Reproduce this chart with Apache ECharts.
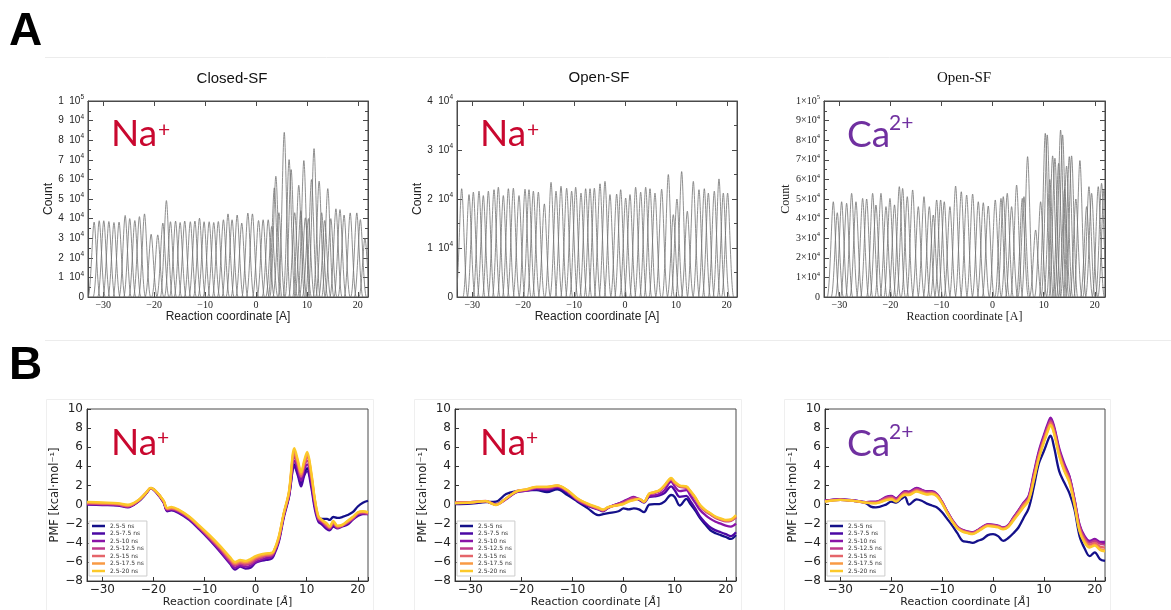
<!DOCTYPE html>
<html><head><meta charset="utf-8">
<script src="https://cdn.jsdelivr.net/npm/echarts@6/dist/echarts.min.js"></script>
<style>html,body{margin:0;padding:0;background:#fff}#c{width:1171px;height:610px}</style>
</head><body><div id="c"></div><script>
// ---------- DATA ----------
// Umbrella-sampling window histograms: [window centre (Å), peak count (x10^4)]
const histClosedNa = [[-31.8,3.82],[-30.8,3.89],[-29.9,3.89],[-28.9,3.85],[-27.9,3.80],[-26.9,3.82],[-25.7,4.16],[-24.8,4.00],[-23.8,3.90],[-22.9,4.10],[-21.9,4.24],[-20.6,3.20],[-19.3,3.17],[-18.3,3.77],[-17.6,4.92],[-16.8,3.84],[-15.8,3.87],[-14.9,3.80],[-14.0,3.87],[-12.9,3.84],[-12.0,3.87],[-11.1,4.02],[-10.2,3.84],[-9.2,3.84],[-8.3,3.80],[-7.4,3.85],[-6.4,3.94],[-5.5,4.24],[-4.7,3.94],[-3.7,4.18],[-2.8,3.77],[-1.6,4.28],[-0.7,4.24],[0.5,3.90],[1.4,3.94],[2.4,3.94],[3.1,3.6],[3.6,5.57],[3.9,6.16],[4.5,4.3],[5.55,8.40],[6.5,7.01],[6.9,6.50],[7.6,4.3],[8.4,5.70],[8.8,4.4],[9.4,6.96],[9.7,4.04],[10.3,4.0],[10.9,5.99],[11.4,7.57],[12.4,5.91],[12.9,4.3],[13.5,3.9],[14.1,5.53],[14.7,4.0],[15.7,4.50],[16.5,4.46],[17.3,4.18],[18.5,4.29],[19.8,4.29],[20.5,3.95],[21.4,3.0]];
const histOpenNa = [[-32.08,2.21],[-30.64,2.09],[-29.79,2.14],[-28.68,2.16],[-27.83,2.07],[-26.84,2.16],[-25.73,2.19],[-24.88,2.24],[-23.90,2.07],[-22.91,2.21],[-21.93,2.22],[-20.82,2.07],[-19.64,2.20],[-18.86,2.19],[-18.00,2.16],[-17.02,2.14],[-15.84,1.90],[-14.53,2.34],[-13.55,2.16],[-12.57,2.26],[-11.46,2.22],[-10.48,2.16],[-9.69,2.24],[-8.64,2.12],[-7.73,2.21],[-6.87,2.21],[-6.02,2.22],[-4.91,2.31],[-3.93,2.36],[-2.95,2.09],[-1.64,2.10],[-0.85,2.19],[0.13,2.02],[0.98,2.09],[2.09,2.24],[3.08,2.14],[4.06,2.24],[4.91,2.21],[5.89,2.12],[7.20,2.20],[8.51,2.50],[9.49,1.68],[10.2,2.0],[11.13,2.56],[12.24,1.75],[13.42,2.36],[14.53,2.19],[15.58,2.21],[16.37,2.12],[17.54,2.16],[18.46,2.41],[19.31,2.12],[20.16,2.12]];
const histOpenCa = [[-31.18,4.86],[-30.4,4.3],[-29.55,4.86],[-28.57,4.78],[-27.59,5.29],[-26.74,4.86],[-25.44,5.03],[-24.65,5.0],[-23.48,5.29],[-22.83,4.69],[-21.85,5.29],[-20.87,4.61],[-20.09,5.03],[-19.2,4.7],[-18.26,5.63],[-17.61,5.54],[-16.70,5.12],[-15.65,5.46],[-14.54,4.61],[-13.43,5.12],[-12.39,4.61],[-11.61,4.18],[-10.95,4.95],[-10.17,4.95],[-9.46,4.86],[-8.35,4.61],[-7.24,5.66],[-6.13,5.37],[-5.08,5.2],[-3.91,5.25],[-2.80,4.86],[-1.82,4.81],[-0.85,4.64],[0.52,4.95],[1.64,5.03],[2.09,5.12],[2.87,5.29],[3.72,4.61],[4.70,5.71],[5.81,5.03],[6.14,5.12],[6.85,7.16],[8.42,3.42],[9.40,4.86],[10.31,8.35],[10.70,8.27],[11.2,6.0],[11.75,7.2],[12.20,7.08],[12.92,6.82],[13.31,8.52],[13.70,8.27],[14.1,5.5],[14.48,6.68],[15.01,7.16],[15.46,7.2],[16.3,5.0],[17.09,6.96],[18.40,4.61],[18.86,5.63],[19.38,5.29],[20.68,5.63],[21.33,5.8],[21.8,5.5]];

// PMF curves (kcal/mol) for 7 time blocks
const seriesNames = ['2.5-5 ns','2.5-7.5 ns','2.5-10 ns','2.5-12.5 ns','2.5-15 ns','2.5-17.5 ns','2.5-20 ns'];
const seriesColors = ['#14108a','#4b08a4','#8a14a8','#be3a8c','#e5656a','#f89a44','#fcc92a'];

const xClosedNa = [-33,-30,-27,-25,-23,-21.5,-20.5,-19.5,-18,-17.3,-16.5,-15,-13,-11,-9,-7,-5,-4,-3,-2,-1,0,1,2,3,3.5,4.5,5.5,6.5,7.6,8.3,8.9,9.5,10.1,10.9,11.6,12.3,13,14,14.5,15.2,16,17,18,19,20,21,22];
const pmfClosedNa_5    = [0.1,0.05,0.0,-0.2,0.3,1.1,1.7,1.4,0.3,-0.6,-0.5,-0.8,-1.5,-2.5,-3.5,-4.7,-5.9,-6.3,-6.1,-6.2,-6.1,-5.7,-5.5,-5.3,-5.3,-5.1,-3.8,-1.2,0.8,4.2,3.2,2.2,3.2,3.8,2.2,-0.2,-1.4,-1.5,-1.5,-1.6,-1.3,-1.4,-1.3,-1.1,-0.8,-0.2,0.2,0.4];
const pmfClosedNa_7_5  = [0.0,-0.05,-0.1,-0.3,0.3,1.1,1.7,1.3,0.2,-0.7,-0.6,-0.9,-1.6,-2.6,-3.7,-4.9,-6.2,-6.8,-6.5,-6.7,-6.6,-6.1,-5.9,-5.8,-5.7,-5.4,-4.0,-1.4,0.7,4.0,3.0,1.9,3.0,3.5,1.8,-0.5,-1.8,-2.1,-2.6,-2.7,-2.3,-2.5,-2.3,-2.1,-1.6,-1.2,-1.0,-1.0];
const pmfClosedNa_10   = [0.05,0.0,-0.05,-0.25,0.35,1.15,1.7,1.35,0.25,-0.6,-0.5,-0.8,-1.5,-2.5,-3.6,-4.8,-6.1,-6.6,-6.4,-6.5,-6.4,-6.0,-5.8,-5.6,-5.5,-5.2,-3.8,-1.2,0.9,4.6,3.6,2.5,3.6,4.2,2.4,-0.1,-1.6,-1.9,-2.4,-2.5,-2.1,-2.4,-2.2,-1.9,-1.5,-1.0,-0.9,-0.9];
const pmfClosedNa_12_5 = [0.1,0.05,0.0,-0.2,0.35,1.15,1.7,1.35,0.3,-0.5,-0.45,-0.7,-1.4,-2.4,-3.5,-4.6,-5.9,-6.4,-6.2,-6.3,-6.2,-5.8,-5.6,-5.4,-5.35,-5.1,-3.7,-1.1,1.0,5.0,4.0,2.9,4.0,4.6,2.8,0.2,-1.5,-1.8,-2.3,-2.5,-2.0,-2.4,-2.2,-1.9,-1.5,-1.0,-0.9,-1.0];
const pmfClosedNa_15   = [0.15,0.1,0.05,-0.15,0.4,1.2,1.72,1.38,0.35,-0.45,-0.4,-0.65,-1.35,-2.35,-3.4,-4.5,-5.75,-6.25,-6.05,-6.15,-6.0,-5.65,-5.45,-5.3,-5.25,-5.0,-3.6,-1.0,1.1,5.3,4.2,3.0,4.2,5.0,3.0,0.4,-1.4,-1.7,-2.2,-2.4,-1.9,-2.3,-2.2,-1.8,-1.4,-0.9,-0.8,-0.9];
const pmfClosedNa_17_5 = [0.22,0.16,0.1,-0.08,0.42,1.2,1.74,1.39,0.38,-0.4,-0.32,-0.6,-1.3,-2.28,-3.3,-4.4,-5.62,-6.12,-5.92,-6.02,-5.85,-5.52,-5.32,-5.2,-5.15,-4.95,-3.5,-0.95,1.2,5.6,4.4,3.2,4.4,5.3,3.2,0.5,-1.3,-1.65,-2.1,-2.35,-1.8,-2.25,-2.15,-1.75,-1.35,-0.85,-0.75,-0.85];
const pmfClosedNa_20   = [0.28,0.22,0.15,-0.02,0.45,1.2,1.75,1.4,0.4,-0.35,-0.25,-0.55,-1.25,-2.2,-3.2,-4.3,-5.5,-6.0,-5.8,-5.9,-5.7,-5.4,-5.2,-5.1,-5.05,-4.9,-3.4,-0.9,1.3,5.9,4.6,3.4,4.6,5.5,3.4,0.6,-1.2,-1.6,-2.0,-2.3,-1.7,-2.2,-2.1,-1.7,-1.3,-0.8,-0.7,-0.8];

const xOpenNa = [-33,-30,-27,-25,-23,-21,-19,-17,-15,-13,-11,-9,-7,-5,-4,-3,-1,0,1,2,3,4,5,6,7,8,9.3,10,11,12.3,13,14,15,16,17,18,19,20,21,22];
const pmfOpenNa_5    = [0.05,0.1,0.25,0.3,1.1,1.4,1.5,1.5,1.3,1.6,1.0,0.3,-0.4,-1.1,-1.0,-0.9,-0.7,-0.4,-0.5,-0.4,-0.5,-0.8,0.0,0.05,0.05,0.3,1.0,0.8,-0.1,0.6,0.1,-0.6,-1.45,-2.1,-2.7,-3.0,-3.2,-3.4,-3.6,-3.2];
const pmfOpenNa_7_5  = [0.1,0.15,0.3,0.05,0.6,1.3,1.45,1.6,1.5,1.75,1.25,0.4,-0.15,-0.5,-0.7,-0.35,0.1,0.3,0.55,0.7,0.5,0.2,0.8,0.85,0.95,1.2,1.9,1.5,0.8,0.9,0.4,-0.4,-1.3,-1.9,-2.4,-2.7,-2.9,-3.1,-3.3,-2.9];
const pmfOpenNa_10   = [0.15,0.2,0.3,0.0,0.55,1.3,1.45,1.7,1.6,1.85,1.35,0.45,-0.1,-0.45,-0.65,-0.3,0.1,0.35,0.6,0.8,0.55,0.25,0.9,0.95,1.1,1.5,2.4,1.9,1.4,1.5,1.0,0.2,-0.6,-1.1,-1.5,-1.8,-2.0,-2.2,-2.3,-2.0];
const pmfOpenNa_12_5 = [0.2,0.25,0.35,0.0,0.6,1.35,1.5,1.75,1.7,1.9,1.4,0.5,-0.05,-0.45,-0.6,-0.3,0.05,0.25,0.5,0.7,0.6,0.3,1.05,1.2,1.4,1.9,2.6,2.2,1.85,1.75,1.35,0.65,-0.2,-0.7,-1.05,-1.4,-1.6,-1.75,-1.7,-1.35];
const pmfOpenNa_15   = [0.22,0.25,0.37,0.0,0.65,1.4,1.55,1.8,1.8,1.95,1.45,0.55,0.0,-0.4,-0.6,-0.3,0.0,0.15,0.4,0.55,0.6,0.3,1.1,1.25,1.45,1.95,2.65,2.25,1.9,1.8,1.4,0.7,-0.15,-0.65,-1.0,-1.35,-1.55,-1.7,-1.65,-1.3];
const pmfOpenNa_17_5 = [0.18,0.22,0.35,-0.02,0.65,1.4,1.6,1.85,1.85,2.0,1.5,0.6,0.05,-0.35,-0.55,-0.3,-0.05,0.1,0.35,0.5,0.6,0.3,1.15,1.3,1.5,2.0,2.7,2.3,1.95,1.85,1.45,0.75,-0.1,-0.6,-0.95,-1.3,-1.5,-1.65,-1.6,-1.2];
const pmfOpenNa_20   = [0.13,0.2,0.35,-0.05,0.65,1.35,1.6,1.85,1.85,2.0,1.5,0.65,0.1,-0.3,-0.5,-0.25,-0.05,0.05,0.3,0.45,0.6,0.3,1.15,1.3,1.5,2.0,2.8,2.4,2.0,1.9,1.5,0.8,-0.05,-0.55,-0.9,-1.25,-1.45,-1.6,-1.55,-1.1];

const xOpenCa = [-33,-30,-27,-25,-24,-23,-21,-20,-19,-18,-17.3,-16.5,-15,-14,-13,-12,-11,-10,-9,-8,-7,-6,-5,-4,-3,-2,-1,0,1,2,3,4,5,6,7,8,9,10,11,11.3,12,13,14,15,16,17,18,19,20,21,22];
const pmfOpenCa_5    = [0.35,0.5,0.35,0.15,-0.22,-0.3,0.0,0.3,0.2,0.6,0.8,0.0,0.55,0.4,0.1,-0.1,-0.3,-0.8,-1.5,-2.2,-3.0,-3.8,-3.9,-4.0,-3.8,-3.6,-3.2,-3.1,-3.3,-3.8,-3.5,-3.0,-2.4,-1.4,-0.4,1.8,4.3,5.6,7.0,7.2,6.0,3.5,2.3,1.2,-0.5,-3.3,-4.6,-5.4,-5.0,-5.7,-5.9];
const pmfOpenCa_7_5  = [0.4,0.55,0.4,0.25,0.25,0.25,0.75,0.85,0.6,1.1,1.35,1.3,1.7,1.5,1.35,1.35,1.05,0.25,-0.75,-1.65,-2.35,-2.7,-2.85,-2.95,-2.7,-2.35,-2.1,-2.15,-2.25,-2.45,-2.2,-1.4,-0.65,0.15,0.8,3.1,5.4,7.1,8.6,8.9,8.0,5.7,4.1,2.9,0.5,-2.2,-3.4,-3.9,-3.7,-4.0,-4.0];
const pmfOpenCa_10   = [0.4,0.55,0.4,0.25,0.3,0.3,0.8,0.9,0.65,1.15,1.4,1.35,1.75,1.55,1.4,1.4,1.1,0.3,-0.7,-1.6,-2.3,-2.65,-2.8,-2.9,-2.65,-2.3,-2.05,-2.1,-2.2,-2.4,-2.15,-1.35,-0.6,0.2,0.9,3.3,5.6,7.3,8.8,9.1,8.2,5.9,4.3,3.0,0.6,-2.1,-3.3,-3.8,-3.6,-3.9,-3.9];
const pmfOpenCa_12_5 = [0.38,0.52,0.37,0.22,0.25,0.25,0.7,0.8,0.55,1.05,1.3,1.25,1.6,1.45,1.3,1.3,1.05,0.25,-0.75,-1.65,-2.35,-2.7,-2.85,-2.95,-2.7,-2.35,-2.1,-2.15,-2.25,-2.45,-2.2,-1.45,-0.7,0.1,0.7,3.0,5.3,7.0,8.5,8.8,7.9,5.6,4.0,2.8,0.5,-2.3,-3.5,-4.0,-3.8,-4.1,-4.2];
const pmfOpenCa_15   = [0.35,0.5,0.35,0.2,0.2,0.2,0.6,0.7,0.45,0.95,1.2,1.15,1.5,1.35,1.2,1.25,1.0,0.2,-0.8,-1.7,-2.4,-2.75,-2.9,-3.0,-2.75,-2.4,-2.15,-2.2,-2.3,-2.5,-2.25,-1.5,-0.8,0.0,0.6,2.8,5.1,6.8,8.3,8.6,7.7,5.4,3.8,2.6,0.3,-2.5,-3.7,-4.2,-4.0,-4.4,-4.5];
const pmfOpenCa_17_5 = [0.32,0.5,0.35,0.2,0.15,0.15,0.5,0.6,0.35,0.85,1.1,1.05,1.4,1.25,1.1,1.15,0.9,0.15,-0.85,-1.75,-2.45,-2.8,-2.95,-3.05,-2.8,-2.45,-2.2,-2.25,-2.35,-2.55,-2.3,-1.6,-0.95,-0.2,0.5,2.6,4.9,6.6,8.1,8.4,7.5,5.2,3.6,2.4,0.1,-2.7,-3.9,-4.4,-4.2,-4.65,-4.8];
const pmfOpenCa_20   = [0.3,0.5,0.35,0.2,0.15,0.13,0.45,0.55,0.3,0.8,1.0,1.0,1.35,1.2,1.05,1.1,0.85,0.1,-0.9,-1.8,-2.5,-2.85,-3.0,-3.1,-2.85,-2.5,-2.25,-2.3,-2.4,-2.6,-2.35,-1.7,-1.0,-0.3,0.4,2.5,4.8,6.5,8.0,8.3,7.4,5.1,3.5,2.3,0.0,-2.8,-4.0,-4.5,-4.3,-4.75,-4.9];

const pmfClosedNa = [pmfClosedNa_5,pmfClosedNa_7_5,pmfClosedNa_10,pmfClosedNa_12_5,pmfClosedNa_15,pmfClosedNa_17_5,pmfClosedNa_20];
const pmfOpenNa = [pmfOpenNa_5,pmfOpenNa_7_5,pmfOpenNa_10,pmfOpenNa_12_5,pmfOpenNa_15,pmfOpenNa_17_5,pmfOpenNa_20];
const pmfOpenCa = [pmfOpenCa_5,pmfOpenCa_7_5,pmfOpenCa_10,pmfOpenCa_12_5,pmfOpenCa_15,pmfOpenCa_17_5,pmfOpenCa_20];

// ---------- STYLE / LAYOUT ----------
const SANS = '"Liberation Sans", Arial, sans-serif';
const SERIF = '"Liberation Serif", "Times New Roman", serif';
const DJV = '"DejaVu Sans", sans-serif';
const PEAK_HALF_WIDTH = 1.2;
const RED = '#c9082f', PURPLE = '#7030a0';

const minus = v => (v < 0 ? '\u2212' + Math.abs(v) : String(v));
const tens = v => (Math.abs(v % 10) > 1e-9 ? '' : minus(v));

const gridsPx = [
  {left:88, top:101, width:280, height:196},
  {left:457, top:101, width:280, height:196},
  {left:824, top:101, width:281, height:196},
  {left:87, top:409, width:281, height:172},
  {left:455, top:409, width:281, height:172},
  {left:825, top:409, width:280, height:172}
];
const grid = gridsPx.map(g => Object.assign({show:true, borderColor:'#4a4a4a', borderWidth:1, containLabel:false, outerBoundsMode:'none'}, g));

const xAxis = [], yAxis = [], series = [];

function peakRender(params, api) {
  const c = api.value(0), h = api.value(1), w = PEAK_HALF_WIDTH;
  const a = api.coord([c - w, 0]), t = api.coord([c, h]), b = api.coord([c + w, 0]);
  const dl = t[0] - a[0], dr = b[0] - t[0];
  const st = {stroke:'rgba(115,115,115,0.8)', fill:null, lineWidth:1};
  return {type:'group', children:[
    {type:'bezierCurve', shape:{x1:a[0],y1:a[1],cpx1:a[0]+0.45*dl,cpy1:a[1],cpx2:t[0]-0.25*dl,cpy2:t[1],x2:t[0],y2:t[1]}, style:st},
    {type:'bezierCurve', shape:{x1:t[0],y1:t[1],cpx1:t[0]+0.25*dr,cpy1:t[1],cpx2:b[0]-0.45*dr,cpy2:b[1],x2:b[0],y2:b[1]}, style:st}
  ]};
}

const lineA = {show:true, onZero:false, lineStyle:{color:'#4a4a4a'}};
const tickA = {inside:true, length:5, lineStyle:{color:'#4a4a4a'}};
const minorA = {show:true, splitNumber:2, length:3, lineStyle:{color:'#4a4a4a'}};

function histPanel(gi, peaks, ymax, serif, nameGap) {
  const font = serif ? SERIF : SANS;
  const xi = xAxis.length, yi = yAxis.length;
  xAxis.push({gridIndex:gi, type:'value', min:-33, max:22, splitNumber:5, position:'bottom',
    axisLine:lineA, axisTick:tickA,
    axisLabel:{fontFamily:SERIF, fontSize:10, color:'#222', margin:3, formatter:tens},
    splitLine:{show:false},
    name:'Reaction coordinate [A]', nameLocation:'middle', nameGap:12,
    nameTextStyle:{fontFamily:font, fontSize:12, color:'#222'}});
  xAxis.push({gridIndex:gi, type:'value', min:-33, max:22, splitNumber:5, position:'top',
    axisLine:lineA, axisTick:tickA, axisLabel:{show:false}, splitLine:{show:false}});
  const sep = serif ? '\u00d710' : '  10';
  yAxis.push({gridIndex:gi, type:'value', min:0, max:ymax, interval:10000, position:'left',
    axisLine:lineA, axisTick:tickA, minorTick:minorA,
    axisLabel:{margin:4, formatter: v => {
        if (v === 0) return '{m|0}';
        const e = v >= 100000 ? 5 : 4;
        return '{m|' + Math.round(v / Math.pow(10, e)) + sep + '}{s|' + e + '}';
      },
      rich:{m:{fontFamily:font, fontSize:10, color:'#222', lineHeight:14},
            s:{fontFamily:font, fontSize:6.5, color:'#222', lineHeight:8, verticalAlign:'top'}}},
    splitLine:{show:false},
    name:'Count', nameLocation:'middle', nameGap:nameGap,
    nameTextStyle:{fontFamily:font, fontSize:12, color:'#222'}});
  yAxis.push({gridIndex:gi, type:'value', min:0, max:ymax, interval:10000, position:'right',
    axisLine:lineA, axisTick:tickA, minorTick:minorA,
    axisLabel:{show:false}, splitLine:{show:false}});
  series.push({type:'custom', xAxisIndex:xi, yAxisIndex:yi, clip:true, silent:true,
    encode:{x:0, y:1}, renderItem:peakRender,
    data: peaks.map(p => [p[0], p[1] * 10000])});
}

function pmfPanel(gi, xs, curves, nameGap) {
  const xi = xAxis.length, yi = yAxis.length;
  xAxis.push({gridIndex:gi, type:'value', min:-33, max:22, splitNumber:5, position:'bottom',
    axisLine:{show:true, onZero:false, lineStyle:{color:'#333'}},
    axisTick:{inside:true, length:4, lineStyle:{color:'#333'}},
    axisLabel:{fontFamily:DJV, fontSize:12, color:'#222', margin:3, formatter:tens},
    splitLine:{show:false},
    name:'Reaction coordinate [{i|\u00c5}]', nameLocation:'middle', nameGap:15,
    nameTextStyle:{fontFamily:DJV, fontSize:11, color:'#222',
      rich:{i:{fontFamily:DJV, fontSize:11, fontStyle:'italic', color:'#222'}}}});
  yAxis.push({gridIndex:gi, type:'value', min:-8, max:10, interval:2, position:'left',
    axisLine:{show:true, onZero:false, lineStyle:{color:'#333'}},
    axisTick:{inside:true, length:4, lineStyle:{color:'#333'}},
    axisLabel:{fontFamily:DJV, fontSize:12, color:'#222', margin:4, formatter:minus},
    splitLine:{show:false},
    name:'PMF [kcal\u00b7mol\u207b\u00b9]', nameLocation:'middle', nameGap:nameGap,
    nameTextStyle:{fontFamily:DJV, fontSize:11.5, color:'#222'}});
  curves.forEach((ys, k) => {
    series.push({type:'line', name:seriesNames[k], xAxisIndex:xi, yAxisIndex:yi,
      data: xs.map((x, i) => [x, ys[i]]), showSymbol:false, smooth:0.35,
      lineStyle:{width:2.3, color:seriesColors[k]}, itemStyle:{color:seriesColors[k]},
      z: 2 + k, silent:true});
  });
}

histPanel(0, histClosedNa, 100000, false, 33);
histPanel(1, histOpenNa, 40000, false, 33);
histPanel(2, histOpenCa, 100000, true, 31);
pmfPanel(3, xClosedNa, pmfClosedNa, 23);
pmfPanel(4, xOpenNa, pmfOpenNa, 22);
pmfPanel(5, xOpenCa, pmfOpenCa, 22);

const legendBase = {data:seriesNames, orient:'vertical', icon:'rect', itemWidth:13, itemHeight:2.5,
  itemGap:1.5, padding:[2,3,2,3], borderColor:'#cccccc', borderWidth:1, backgroundColor:'#fff',
  selectedMode:false, textStyle:{fontFamily:DJV, fontSize:6, lineHeight:6, color:'#333'}};
const legend = [
  Object.assign({left:89, top:521}, legendBase),
  Object.assign({left:457, top:521}, legendBase),
  Object.assign({left:827, top:521}, legendBase)
];

function txt(x, y, text, font, fill, align) {
  return {type:'text', x:x, y:y, z:50, silent:true,
    style:{text:text, font:font, fill:fill, align:align||'left', verticalAlign:'middle',
           textAlign:align||'left', textVerticalAlign:'middle'}};
}
const graphicEls = [
  {type:'line', silent:true, shape:{x1:45, y1:57.5, x2:1171, y2:57.5}, style:{stroke:'#ececec', lineWidth:1}},
  {type:'line', silent:true, shape:{x1:45, y1:340.5, x2:1171, y2:340.5}, style:{stroke:'#ececec', lineWidth:1}},
  {type:'rect', silent:true, shape:{x:46.5, y:399.5, width:327, height:215}, style:{fill:null, stroke:'#efefef', lineWidth:1}},
  {type:'rect', silent:true, shape:{x:414.5, y:399.5, width:327, height:215}, style:{fill:null, stroke:'#efefef', lineWidth:1}},
  {type:'rect', silent:true, shape:{x:784.5, y:399.5, width:326, height:215}, style:{fill:null, stroke:'#efefef', lineWidth:1}},
  txt(9, 32, 'A', 'bold 46px ' + SANS, '#000'),
  txt(9, 366, 'B', 'bold 46px ' + SANS, '#000'),
  txt(232, 79, 'Closed-SF', '15px ' + SANS, '#111', 'center'),
  txt(599, 78, 'Open-SF', '15px ' + SANS, '#111', 'center'),
  txt(964, 78, 'Open-SF', '15px ' + SERIF, '#111', 'center'),
  // ion labels
  txt(111, 134, 'Na', '37px Lato', RED), txt(158, 130, '+', '21px Lato', RED),
  txt(480, 134, 'Na', '37px Lato', RED), txt(527, 130, '+', '21px Lato', RED),
  txt(847, 135, 'Ca', '37px Lato', PURPLE), txt(889, 123, '2+', '21px Lato', PURPLE),
  txt(111, 443, 'Na', '37px Lato', RED), txt(157, 438, '+', '21px Lato', RED),
  txt(480, 443, 'Na', '37px Lato', RED), txt(526, 438, '+', '21px Lato', RED),
  txt(847, 444, 'Ca', '37px Lato', PURPLE), txt(889, 432, '2+', '21px Lato', PURPLE)
];

const chart = echarts.init(document.getElementById('c'), null, {renderer:'canvas'});
chart.setOption({
  animation:false,
  backgroundColor:'#fff',
  grid:grid, xAxis:xAxis, yAxis:yAxis, series:series, legend:legend,
  graphic:{elements:graphicEls}
});
</script></body></html>
